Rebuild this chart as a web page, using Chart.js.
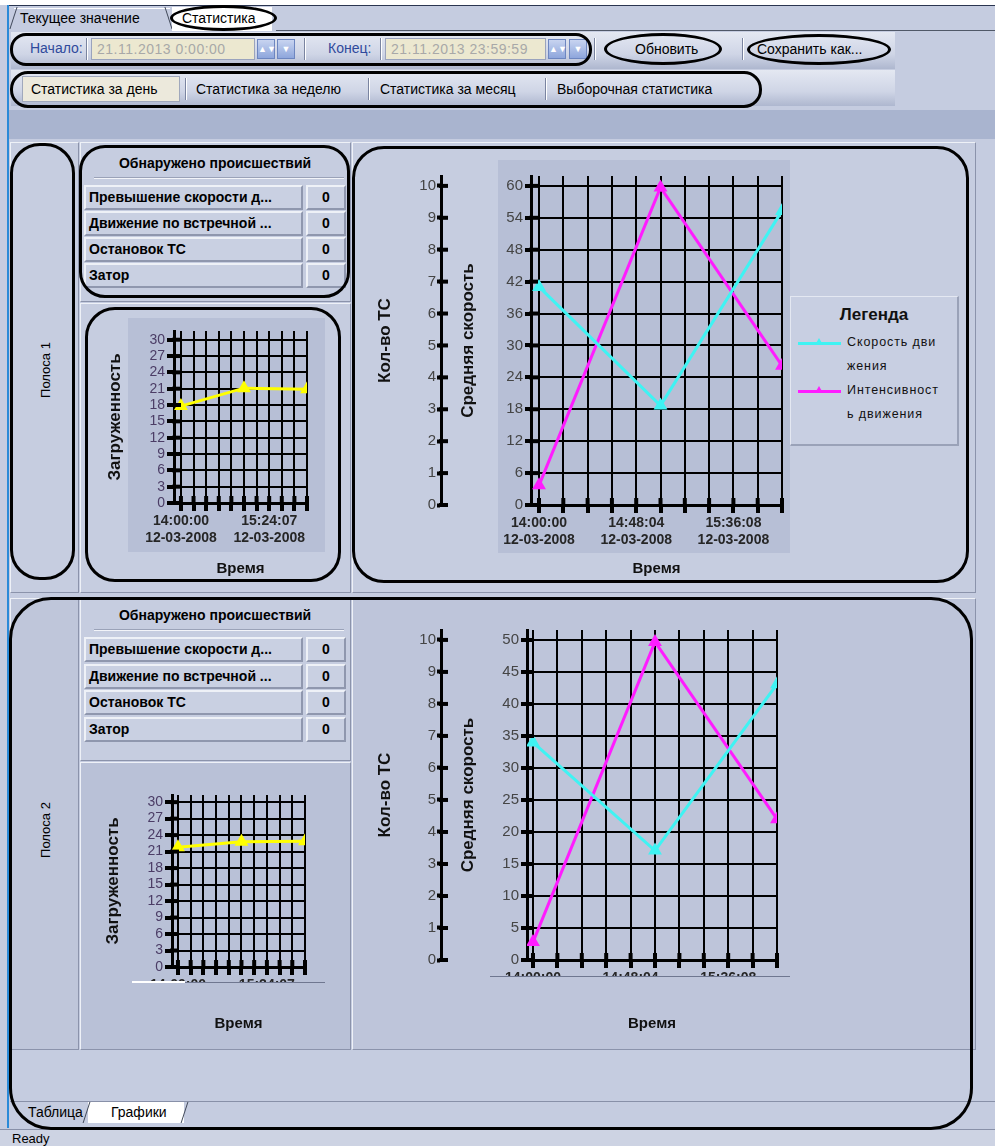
<!DOCTYPE html>
<html>
<head>
<meta charset="utf-8">
<script src="https://cdn.jsdelivr.net/npm/chart.js@4.4.0/dist/chart.umd.min.js"></script>
<style>
  html, body { margin: 0; padding: 0; background: #c5cce0; }
  #app { position: relative; width: 995px; height: 1146px; overflow: hidden; background: #c5cce0;
         font-family: "Liberation Sans", Arial, sans-serif; font-size: 14px; color: #000; }
  .abs { position: absolute; }
  .ring { position: absolute; border: 3px solid #000; box-sizing: border-box; pointer-events: none; z-index: 5; }
  .cell { position: absolute; box-sizing: border-box; background: #c6cde0;
          border-top: 1px solid #eef1f7; border-left: 1px solid #eef1f7;
          border-bottom: 1px solid #8b93ab; border-right: 1px solid #8b93ab; }
  .tb { position: absolute; box-sizing: border-box; background: linear-gradient(#e4e8f2, #cfd5e6 60%, #aeb7cf); }
  .inp { position: absolute; height: 22px; box-sizing: border-box; background: #ece8d0; border: 1px solid #9aa3bd;
         color: #a8a8a8; font-size: 14px; line-height: 20px; padding-left: 5px; letter-spacing: 0.5px; }
  .spin { position: absolute; width: 18px; height: 20px; background: linear-gradient(#c8d4f0, #8ea6dc); border: 1px solid #6d86c0;
          box-sizing: border-box; color: #fff; font-size: 9px; line-height: 18px; text-align: center; }
  .lab { position: absolute; color: #2f4a9c; font-size: 14px; }
  .sep { position: absolute; width: 1px; background: #7a84a0; border-right: 1px solid #fff; }
  .btn { position: absolute; font-size: 14px; white-space: nowrap; }
  .vtext { position: absolute; transform: translate(-50%, -50%) rotate(-90deg); white-space: nowrap; font-size: 13px; }
  .tcell { position: absolute; box-sizing: border-box; background: #c9d0e2; font-weight: bold; font-size: 14px;
           border-top: 2px solid #eef1f7; border-left: 2px solid #eef1f7; border-bottom: 2px solid #8f97ae; border-right: 2px solid #8f97ae;
           line-height: 20px; padding-left: 3px; white-space: nowrap; overflow: hidden; }
  .thead { position: absolute; font-weight: bold; font-size: 14px; text-align: center; white-space: nowrap; }
  canvas { position: absolute; z-index: 2; }
  .plotbg { position: absolute; background: #b7bfd6; }
  .clip { position: absolute; background: #c3cadd; border-top: 1px solid #6f7790; z-index: 3; }
  .legend { position: absolute; box-sizing: border-box; background: #c8cfe2; border-top: 1px solid #e4e8f2; border-left: 1px solid #e4e8f2;
            border-right: 2px solid #9aa2b8; border-bottom: 2px solid #9aa2b8; z-index: 4; }
  .legend .ttl { position: absolute; left: 0; right: 0; top: 8px; text-align: center; font-weight: bold; font-size: 17px; color: #111; }
  .legend .txt { position: absolute; font-size: 12.5px; letter-spacing: 0.9px; color: #111; white-space: nowrap; }
  .legend .swl { position: absolute; height: 3px; }
  .legend .swp { position: absolute; width: 0; height: 0; border-left: 4px solid transparent; border-right: 4px solid transparent; }
</style>
</head>
<body>
<div id="app">
  <!-- window frame -->
  <div class="abs" style="left:0;top:0;width:995px;height:5px;background:#fff"></div>
  <div class="abs" style="left:8px;top:5px;width:987px;height:1px;background:#2a3550"></div>
  <div class="abs" style="left:7px;top:5px;width:2px;height:1123px;background:#2a8ad8;z-index:6"></div>

  <!-- top tabs -->
  <div class="abs" style="left:14px;top:8px;width:156px;height:22px;border-top:1px solid #fff;"></div>
  <div class="abs" style="left:13px;top:7px;width:1px;height:22px;background:#404858;transform:skewX(-18deg)"></div>
  <div class="btn" style="left:20px;top:10px">Текущее значение</div>
  <div class="abs" style="left:168px;top:7px;width:1px;height:22px;background:#404858;transform:skewX(18deg)"></div>
  <div class="abs" style="left:172px;top:7px;width:100px;height:24px;background:#fff"></div>
  <div class="btn" style="left:182px;top:10px">Статистика</div>
  <div class="abs" style="left:276px;top:30px;width:719px;height:1px;background:#505868"></div>
  <div class="ring" style="left:170px;top:5px;width:107px;height:26px;border-radius:50%"></div>

  <!-- toolbar 1 -->
  <div class="tb" style="left:11px;top:32px;width:884px;height:37px"></div>
  <div class="lab" style="left:30px;top:40px">Начало:</div>
  <div class="sep" style="left:86px;top:38px;height:22px"></div>
  <div class="inp" style="left:91px;top:38px;width:164px">21.11.2013 0:00:00</div>
  <div class="spin" style="left:257px;top:39px">▲▼</div>
  <div class="spin" style="left:277px;top:39px">▼</div>
  <div class="sep" style="left:304px;top:38px;height:22px"></div>
  <div class="lab" style="left:328px;top:40px">Конец:</div>
  <div class="sep" style="left:380px;top:38px;height:22px"></div>
  <div class="inp" style="left:385px;top:38px;width:161px">21.11.2013 23:59:59</div>
  <div class="spin" style="left:548px;top:39px">▲▼</div>
  <div class="spin" style="left:569px;top:39px">▼</div>
  <div class="sep" style="left:594px;top:38px;height:22px"></div>
  <div class="btn" style="left:635px;top:41px">Обновить</div>
  <div class="sep" style="left:742px;top:38px;height:22px"></div>
  <div class="btn" style="left:757px;top:41px">Сохранить как...</div>
  <div class="ring" style="left:10px;top:33px;width:582px;height:33px;border-radius:16px"></div>
  <div class="ring" style="left:604px;top:33px;width:118px;height:32px;border-radius:50%"></div>
  <div class="ring" style="left:747px;top:34px;width:144px;height:31px;border-radius:50%"></div>

  <!-- toolbar 2 -->
  <div class="tb" style="left:11px;top:70px;width:884px;height:36px"></div>
  <div class="abs" style="left:22px;top:76px;width:158px;height:26px;background:#ece9dc;border:1px solid #a0a8bc;box-sizing:border-box"></div>
  <div class="btn" style="left:31px;top:81px">Статистика за день</div>
  <div class="sep" style="left:185px;top:78px;height:22px"></div>
  <div class="btn" style="left:196px;top:81px">Статистика за неделю</div>
  <div class="sep" style="left:368px;top:78px;height:22px"></div>
  <div class="btn" style="left:380px;top:81px">Статистика за месяц</div>
  <div class="sep" style="left:545px;top:78px;height:22px"></div>
  <div class="btn" style="left:557px;top:81px">Выборочная статистика</div>
  <div class="ring" style="left:10px;top:71px;width:752px;height:37px;border-radius:18px"></div>

  <!-- band -->
  <div class="abs" style="left:9px;top:110px;width:986px;height:29px;background:#a9b4cf"></div>

  <!-- lane 1 cells -->
  <div class="cell" style="left:10px;top:142px;width:69px;height:451px"></div>
  <div class="vtext" style="left:45px;top:370px;z-index:3">Полоса 1</div>
  <div class="cell" style="left:80px;top:142px;width:271px;height:160px"></div>
  <div class="cell" style="left:80px;top:303px;width:271px;height:290px"></div>
  <div class="cell" style="left:352px;top:142px;width:624px;height:451px"></div>
  <div class="plotbg" style="left:128px;top:318px;width:197px;height:234px"></div>
  <div class="plotbg" style="left:498px;top:160px;width:292px;height:393px"></div>

  <!-- lane 2 cells -->
  <div class="cell" style="left:10px;top:598px;width:69px;height:452px;background:#bfc6da"></div>
  <div class="vtext" style="left:45px;top:830px;z-index:3">Полоса 2</div>
  <div class="cell" style="left:80px;top:598px;width:271px;height:163px"></div>
  <div class="cell" style="left:80px;top:762px;width:271px;height:288px;background:#b9c1d7"></div>
  <div class="cell" style="left:352px;top:598px;width:624px;height:452px;background:#bec5da"></div>

  <div id="tables"></div>

  <canvas id="small1" width="225" height="258" style="left:90px;top:322px"></canvas>
  <canvas id="big1" width="425" height="415" style="left:365px;top:165px"></canvas>
  <canvas id="small2" width="225" height="249" style="left:88px;top:786px"></canvas>
  <canvas id="big2" width="420" height="416" style="left:365px;top:619px"></canvas>

  <div class="clip" style="left:132px;top:982px;width:193px;height:31px;background:#b9c1d7"></div>
  <div class="abs" style="left:132px;top:981px;width:53px;height:2px;background:#fff;z-index:4"></div>
  <div class="clip" style="left:490px;top:976px;width:300px;height:30px;background:#bec5da"></div>

  <div class="legend" id="legend" style="left:790px;top:296px;width:169px;height:150px">
    <div class="ttl">Легенда</div>
  </div>

  <!-- rings lane 1 / lane 2 -->
  <div class="ring" style="left:10px;top:143px;width:65px;height:437px;border-radius:30px"></div>
  <div class="ring" style="left:79px;top:145px;width:271px;height:153px;border-radius:26px"></div>
  <div class="ring" style="left:85px;top:307px;width:256px;height:275px;border-radius:30px"></div>
  <div class="ring" style="left:352px;top:146px;width:617px;height:437px;border-radius:32px"></div>
  <div class="ring" style="left:9px;top:597px;width:964px;height:533px;border-radius:42px"></div>

  <!-- bottom tabs + status -->
  <div class="abs" style="left:10px;top:1101px;width:985px;height:1px;background:#8890a8"></div>
  <div class="abs" style="left:88px;top:1102px;width:96px;height:21px;background:#fff"></div>
  <div class="abs" style="left:86px;top:1102px;width:1px;height:21px;background:#404858;transform:skewX(-18deg)"></div>
  <div class="abs" style="left:184px;top:1102px;width:1px;height:21px;background:#404858;transform:skewX(-18deg)"></div>
  <div class="btn" style="left:28px;top:1104px">Таблица</div>
  <div class="btn" style="left:111px;top:1104px">Графики</div>
  <div class="abs" style="left:0;top:1129px;width:995px;height:1px;background:#8890a8"></div>
  <div class="abs" style="left:0;top:1130px;width:995px;height:16px;background:#cdd3e3"></div>
  <div class="btn" style="left:12px;top:1131px;font-size:13px">Ready</div>
</div>

<script>
const FONT = '"Liberation Sans", Arial, sans-serif';

// time axis, seconds from 14:00:00
const xTickValues = [0, 721, 1442, 2163, 2884, 3605, 4326, 5047, 5768, 6489, 7210];
const pointTimes = [0, 3605, 7210];
const dateLabel = '12-03-2008';
const bigTimeLabelAt = [0, 2884, 5768];
const bigTimeLabels = ['14:00:00', '14:48:04', '15:36:08'];
const smallTimeLabelAt = [0, 5047];
const smallTimeLabels = ['14:00:00', '15:24:07'];

// y ticks
const loadTicks = [0, 3, 6, 9, 12, 15, 18, 21, 24, 27, 30];
const countTicks = [0, 1, 2, 3, 4, 5, 6, 7, 8, 9, 10];
const speedTicks1 = [0, 6, 12, 18, 24, 30, 36, 42, 48, 54, 60];
const speedTicks2 = [0, 5, 10, 15, 20, 25, 30, 35, 40, 45, 50];

// series
const lane1Load = [17.8, 21.1, 20.9];
const lane2Load = [21.8, 22.8, 22.9];
const lane1Speed = [41, 18.7, 55.3];
const lane1Intensity = [3.7, 59.7, 26.2];
const lane2Speed = [34, 17.1, 43.1];
const lane2Intensity = [2.8, 49.7, 22];
const seriesNames = ['Скорость движения', 'Интенсивность движения'];
const seriesColors = ['#3ff3f3', '#ff1cff'];

// incidents tables
const incidentTitle = 'Обнаружено происшествий';
const incidentNames = ['Превышение скорости д...', 'Движение по встречной ...', 'Остановок ТС', 'Затор'];
const lane1Incidents = [0, 0, 0, 0];
const lane2Incidents = [0, 0, 0, 0];

function buildTable(top, rowTops, names, values) {
  const host = document.getElementById('tables');
  const h = document.createElement('div');
  h.className = 'thead';
  h.style.cssText = 'left:84px;width:262px;top:' + top + 'px;z-index:3';
  h.textContent = incidentTitle;
  host.appendChild(h);
  const line = document.createElement('div');
  line.className = 'abs';
  line.style.cssText = 'left:94px;width:250px;height:1px;background:#f2f4f9;border-top:1px solid #9aa2b8;top:' + (top + 22) + 'px';
  host.appendChild(line);
  names.forEach((n, i) => {
    const a = document.createElement('div');
    a.className = 'tcell';
    a.style.cssText = 'left:84px;width:219px;height:25px;top:' + rowTops[i] + 'px;z-index:3';
    a.textContent = n;
    const b = document.createElement('div');
    b.className = 'tcell';
    b.style.cssText = 'left:306px;width:40px;height:25px;text-align:center;padding-left:0;top:' + rowTops[i] + 'px;z-index:3';
    b.textContent = values[i];
    host.appendChild(a); host.appendChild(b);
  });
}
buildTable(155, [185, 211, 237, 263], incidentNames, lane1Incidents);
buildTable(607, [637, 664, 690, 717], incidentNames, lane2Incidents);

// thick tick marks that cross the axis lines
const crossTicks = {
  id: 'crossTicks',
  afterDatasetsDraw(chart, args, opts) {
    const ctx = chart.ctx;
    ctx.save();
    ctx.strokeStyle = '#000';
    ctx.lineWidth = 4;
    (opts.y || []).forEach(id => {
      const s = chart.scales[id];
      s.ticks.forEach(t => {
        const y = s.getPixelForValue(t.value);
        ctx.beginPath(); ctx.moveTo(s.right - 2, y); ctx.lineTo(s.right + 7, y); ctx.stroke();
      });
    });
    if (opts.x) {
      const s = chart.scales.x;
      s.ticks.forEach(t => {
        const x = s.getPixelForValue(t.value);
        ctx.beginPath(); ctx.moveTo(x, s.top - 7); ctx.lineTo(x, s.top + 2); ctx.stroke();
      });
    }
    ctx.restore();
  }
};

function xScale(xMin, labelAt, labels, height) {
  return {
    type: 'linear', min: xMin, max: 7210,
    afterBuildTicks: s => { s.ticks = xTickValues.map(v => ({ value: v })); },
    afterFit: s => { s.height = height; },
    ticks: {
      autoSkip: false, maxRotation: 0, padding: 2, color: '#262626',
      font: { family: FONT, size: 14, weight: 'bold' },
      callback: v => { const i = labelAt.indexOf(v); return i < 0 ? '' : [labels[i], dateLabel]; }
    },
    grid: { color: '#000', lineWidth: 2, tickLength: 8, tickWidth: 4, tickColor: '#000' },
    border: { color: '#000', width: 3 },
    title: { display: true, text: 'Время', color: '#111', padding: { top: 0, bottom: 2 },
             font: { family: FONT, size: 15, weight: 'bold' } }
  };
}

function yTitle(text, pad) {
  return { display: true, text: text, color: '#111', padding: { top: pad, bottom: 0 },
           font: { family: FONT, size: 17, weight: 'bold' } };
}

function smallChart(id, loads, xMin, yMax) {
  return new Chart(document.getElementById(id), {
    type: 'line',
    data: {
      datasets: [{
        label: 'Загруженность',
        data: pointTimes.map((t, i) => ({ x: t, y: loads[i] })),
        borderColor: '#ffff00', backgroundColor: '#ffff00', borderWidth: 3,
        pointStyle: 'triangle', pointRadius: 5, tension: 0
      }]
    },
    options: {
      responsive: false, animation: false, events: [],
      layout: { padding: { top: 6, right: 7 } },
      plugins: { legend: { display: false }, tooltip: { enabled: false }, crossTicks: { y: ['y'], x: true } },
      scales: {
        x: xScale(xMin, smallTimeLabelAt, smallTimeLabels, id === 'small1' ? 77 : 68),
        y: {
          min: 0, max: yMax,
          afterBuildTicks: s => { s.ticks = loadTicks.map(v => ({ value: v })); },
          afterFit: s => { s.width = 84; },
          ticks: { autoSkip: false, padding: 2, color: '#4b3d66', font: { family: FONT, size: 14, lineHeight: 1 } },
          grid: { color: '#000', lineWidth: 2, tickLength: 7, tickWidth: 4, tickColor: '#000' },
          border: { color: '#000', width: 3 },
          title: yTitle('Загруженность', 15)
        }
      }
    },
    plugins: [crossTicks]
  });
}

function bigChart(id, speed, intensity, speedTicks, speedMax, xMin, speedWidth, padRight) {
  const mk = (vals, i) => ({
    label: seriesNames[i],
    data: pointTimes.map((t, k) => ({ x: t, y: vals[k] })),
    borderColor: seriesColors[i], backgroundColor: seriesColors[i], borderWidth: 3,
    pointStyle: 'triangle', pointRadius: 5, tension: 0, yAxisID: 'y'
  });
  return new Chart(document.getElementById(id), {
    type: 'line',
    data: { datasets: [mk(speed, 0), mk(intensity, 1)] },
    options: {
      responsive: false, animation: false, events: [],
      layout: { padding: { top: 8, right: padRight } },
      plugins: { legend: { display: false }, tooltip: { enabled: false }, crossTicks: { y: ['yc', 'y'], x: true } },
      scales: {
        x: xScale(xMin, bigTimeLabelAt, bigTimeLabels, 75),
        y: {
          position: 'left', weight: 0, min: 0, max: speedMax,
          afterBuildTicks: s => { s.ticks = speedTicks.map(v => ({ value: v })); },
          afterFit: s => { s.width = speedWidth; },
          ticks: { autoSkip: false, padding: 2, color: '#454545', font: { family: FONT, size: 15 } },
          grid: { color: '#000', lineWidth: 2, tickLength: 6, tickWidth: 4, tickColor: '#000' },
          border: { color: '#000', width: 3 },
          title: yTitle('Средняя скорость', 17)
        },
        yc: {
          position: 'left', weight: 1, min: 0, max: 10.31,
          afterBuildTicks: s => { s.ticks = countTicks.map(v => ({ value: v })); },
          afterFit: s => { s.width = 76; },
          ticks: { autoSkip: false, padding: 1, color: '#454545', font: { family: FONT, size: 15 } },
          grid: { drawOnChartArea: false, tickLength: 4, tickWidth: 4, tickColor: '#000' },
          border: { color: '#000', width: 3 },
          title: yTitle('Кол-во ТС', 10)
        }
      }
    },
    plugins: [crossTicks]
  });
}

smallChart('small1', lane1Load, -397, 31.6);
smallChart('small2', lane2Load, -338, 31.3);
bigChart('big1', lane1Speed, lane1Intensity, speedTicks1, 61.86, -238, 90, 8);
bigChart('big2', lane2Speed, lane2Intensity, speedTicks2, 51.56, -177, 86, 7);

// legend, text wrapped by character like the original control
(function buildLegend() {
  const box = document.getElementById('legend');
  const ctx = document.createElement('canvas').getContext('2d');
  ctx.font = '12.5px ' + FONT;
  const maxW = 96;
  const wrap = s => {
    const lines = []; let cur = '';
    for (const ch of s) {
      const test = cur + ch;
      if (ctx.measureText(test).width + test.length * 0.9 > maxW && cur) { lines.push(cur); cur = ch; }
      else cur = test;
    }
    lines.push(cur);
    return lines;
  };
  let y = 38;
  seriesNames.forEach((name, i) => {
    const sw = document.createElement('div');
    sw.className = 'swl';
    sw.style.cssText = 'left:7px;width:43px;top:' + (y + 7) + 'px;background:' + seriesColors[i];
    box.appendChild(sw);
    const tri = document.createElement('div');
    tri.className = 'swp';
    tri.style.cssText = 'left:24px;top:' + (y + 3) + 'px;border-bottom:7px solid ' + seriesColors[i];
    box.appendChild(tri);
    wrap(name).forEach((ln, k) => {
      const t = document.createElement('div');
      t.className = 'txt';
      t.style.cssText = 'left:56px;top:' + (y + k * 24) + 'px';
      t.textContent = ln;
      box.appendChild(t);
    });
    y += 48;
  });
})();
</script>
</body>
</html>
